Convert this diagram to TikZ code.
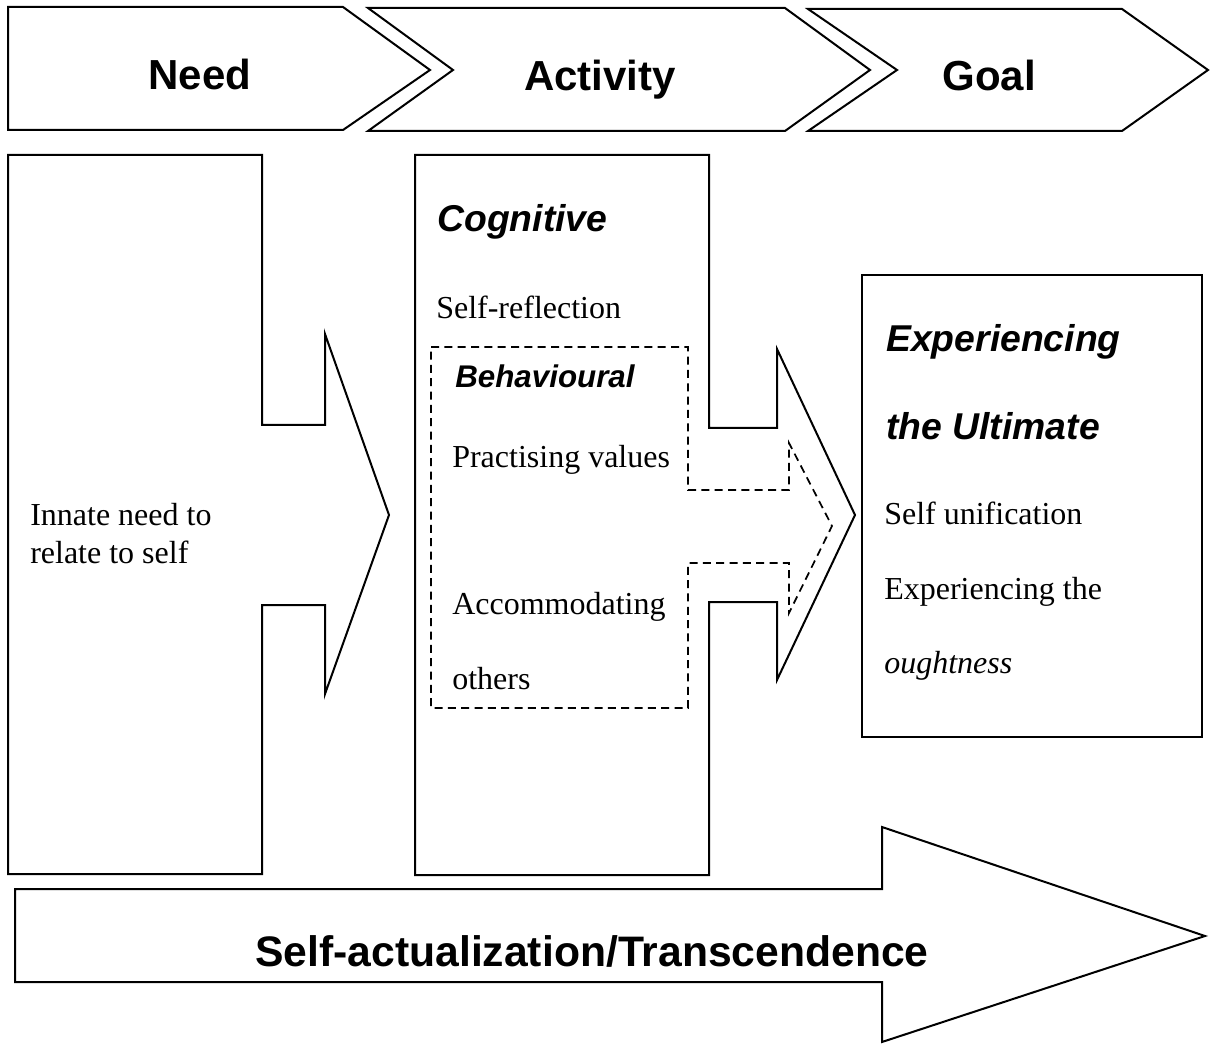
\documentclass[tikz,border=0pt]{standalone}
\usepackage{fontspec}
\setmainfont{Liberation Serif}
\newfontfamily\headfont{Liberation Sans}
\begin{document}
\begin{tikzpicture}[x=0.75pt,y=-0.75pt,
  outline/.style={draw=black, line width=1.5pt, line join=miter},
  dashline/.style={draw=black, line width=1.3pt, dash pattern=on 6pt off 4pt},
  stage/.style={font=\headfont\bfseries\fontsize{31.5}{36}\selectfont, inner sep=0pt, anchor=base},
  banner/.style={font=\headfont\bfseries\fontsize{32}{36}\selectfont, inner sep=0pt, anchor=base west},
  topic/.style={font=\headfont\bfseries\itshape\fontsize{28}{32}\selectfont, inner sep=0pt, anchor=base west},
  subtopic/.style={font=\headfont\bfseries\itshape\fontsize{23.5}{28}\selectfont, inner sep=0pt, anchor=base west},
  body/.style={font=\fontsize{24}{28}\selectfont, inner sep=0pt, anchor=base west}]
\useasboundingbox (0,0) rectangle (1210,1044);

% stage chevrons along the top
\draw[outline] (8,7) -- (343,7) -- (430,70) -- (343,130) -- (8,130) -- cycle;
\draw[outline] (368,8) -- (785,8) -- (870,70) -- (785,131) -- (368,131) -- (453,70) -- cycle;
\draw[outline] (808,9) -- (1122,9) -- (1208,70) -- (1122,131) -- (808,131) -- (897,70) -- cycle;
\node[stage] (need) at (200,90) {Need};
\node[stage] (activity) at (600,91) {Activity};
\node[stage] (goal) at (989,91) {Goal};

% need column with its arrow
\draw[outline] (8,155) -- (262,155) -- (262,425) -- (325,425) -- (325,334) -- (389,515)
  -- (325,694) -- (325,605) -- (262,605) -- (262,874) -- (8,874) -- cycle;
\node[body] (innate1) at (30,526) {Innate need to};
\node[body] (innate2) at (30,563) {relate to self};

% activity column with its arrow
\draw[outline] (415,155) -- (709,155) -- (709,428) -- (777,428) -- (777,349) -- (855,515)
  -- (777,680) -- (777,602) -- (709,602) -- (709,875) -- (415,875) -- cycle;
\node[topic] (cognitive) at (437,232) {Cognitive};
\node[body] (reflect) at (436,319) {Self-reflection};

% behavioural region, dashed
\draw[dashline] (431,347) -- (688,347) -- (688,490) -- (789,490) -- (789,443) -- (832,526)
  -- (789,613) -- (789,563) -- (688,563) -- (688,708) -- (431,708) -- cycle;
\node[subtopic] (behav) at (455,388) {Behavioural};
\node[body] (values) at (452,468) {Practising values};
\node[body] (accom) at (452,614) {Accommodating};
\node[body] (others) at (452,689) {others};

% goal box
\draw[outline] (862,275) rectangle (1202,737);
\node[topic] (exp1) at (886,352) {Experiencing};
\node[topic] (exp2) at (886,440) {the Ultimate};
\node[body] (unif) at (884,525) {Self unification};
\node[body] (oughta) at (884,599) {Experiencing the};
\node[body, font=\itshape\fontsize{24}{28}\selectfont] (oughtb) at (884,673) {oughtness};

% long arrow along the bottom
\draw[outline] (15,889) -- (882,889) -- (882,827) -- (1205,936) -- (882,1042) -- (882,982)
  -- (15,982) -- cycle;
\node[banner] (actual) at (255,966) {Self-actualization/Transcendence};
\end{tikzpicture}
\end{document}
